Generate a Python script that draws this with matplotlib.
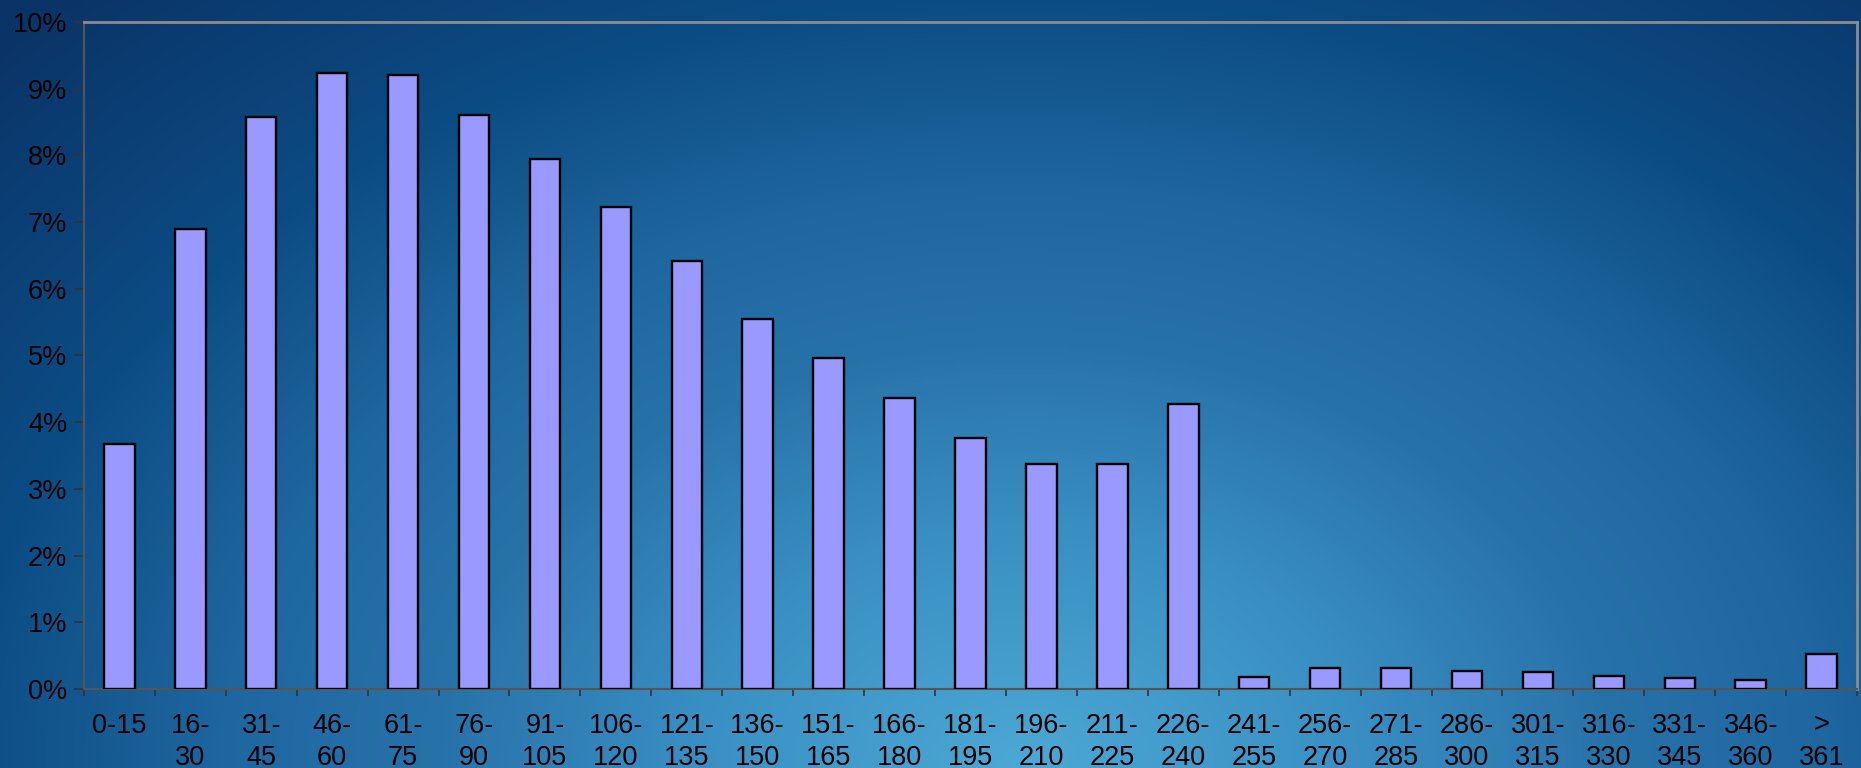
import numpy as np
import matplotlib
matplotlib.use("Agg")
import matplotlib.pyplot as plt
from matplotlib.colors import LinearSegmentedColormap
from matplotlib.ticker import FixedLocator, PercentFormatter

# duration bins (minutes) and share of sessions in each, in percent
bins = ["0-15", "16-\n30", "31-\n45", "46-\n60", "61-\n75", "76-\n90", "91-\n105",
        "106-\n120", "121-\n135", "136-\n150", "151-\n165", "166-\n180", "181-\n195",
        "196-\n210", "211-\n225", "226-\n240", "241-\n255", "256-\n270", "271-\n285",
        "286-\n300", "301-\n315", "316-\n330", "331-\n345", "346-\n360", ">\n361"]
share = [3.67, 6.90, 8.58, 9.23, 9.20, 8.61, 7.95, 7.22, 6.41, 5.55, 4.96, 4.36, 3.77,
         3.38, 3.38, 4.27, 0.18, 0.32, 0.32, 0.27, 0.26, 0.19, 0.16, 0.13, 0.52]

plt.rcParams["font.family"] = ["Liberation Sans", "DejaVu Sans"]

fig = plt.figure(figsize=(18.61, 7.68), dpi=100)

# radial blue backdrop, brightest near the bottom middle, navy in the top corners
bg = fig.add_axes([0, 0, 1, 1], zorder=-10)
bg.set_axis_off()
h, w = 384, 930
yy, xx = np.mgrid[0:h, 0:w]
cx, cy = 0.55 * w, 0.0
r = np.sqrt(((xx - cx) / (0.57 * w)) ** 2 + ((yy - cy) / (1.0 * h)) ** 2)
rmax = 1.35
cmap = LinearSegmentedColormap.from_list(
    "backdrop",
    [(0.0, "#4ca8d4"), (0.3 / rmax, "#3a90c4"), (0.55 / rmax, "#2872aa"),
     (0.76 / rmax, "#1e66a0"), (0.86 / rmax, "#175b93"), (1.0 / rmax, "#0c4c84"),
     (1.0, "#0a3468")])
bg.imshow(np.clip(r, 0, rmax), cmap=cmap, vmin=0, vmax=rmax, aspect="auto",
          origin="lower", extent=[0, 1, 0, 1], interpolation="bilinear")
bg.set_xlim(0, 1)
bg.set_ylim(0, 1)

ax = fig.add_axes([0.0451, 0.1029, 0.9528, 0.8685])
ax.patch.set_alpha(0)
x = np.arange(len(bins))
ax.bar(x, share, width=0.43, color="#9999ff", edgecolor="black", linewidth=1.7, zorder=3)

ax.set_xlim(-0.5, len(bins) - 0.5)
ax.set_ylim(0, 10)
ax.yaxis.set_major_locator(FixedLocator(np.arange(0, 11)))
ax.yaxis.set_major_formatter(PercentFormatter(decimals=0))

ax.set_xticks(x)
ax.set_xticklabels(bins, linespacing=1.3, va="top")
ax.xaxis.set_minor_locator(FixedLocator(np.arange(-0.5, len(bins))))
ax.tick_params(axis="x", which="major", length=0, pad=17, labelsize=19.5)
ax.tick_params(axis="x", which="minor", length=5, width=1.2, color="#333333")
ax.tick_params(axis="y", length=7, width=1.2, color="#333333", labelsize=19.5, pad=5)

for side in ("left", "bottom"):
    ax.spines[side].set_color("#555555")
    ax.spines[side].set_linewidth(1.5)
for side in ("top", "right"):
    ax.spines[side].set_color("#8c8c8c")
    ax.spines[side].set_linewidth(2)

fig.savefig("out.png", dpi=100)
